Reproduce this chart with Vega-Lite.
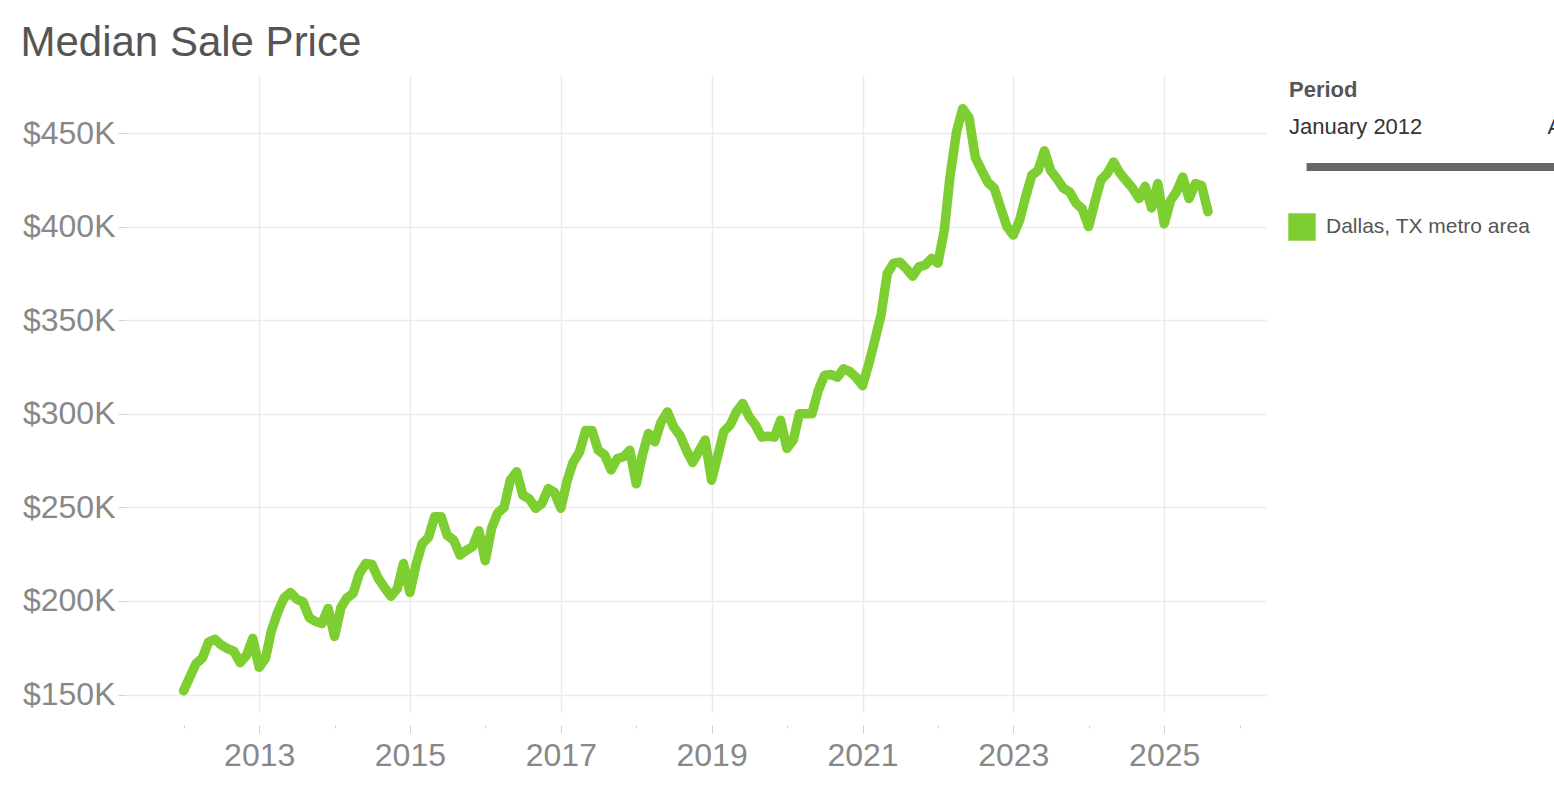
{
  "$schema": "https://vega.github.io/schema/vega-lite/v6.json",
  "width": 1140,
  "height": 637,
  "padding": {"left": 20, "top": 22, "right": 0, "bottom": 0},
  "background": "white",
  "title": {"text": "Median Sale Price", "anchor": "start", "frame": "bounds", "fontSize": 42, "fontWeight": "normal", "color": "#555555", "font": "Liberation Sans", "offset": 10, "dx": -2},
  "data": {"values": [
    {"date": "2012-01-01", "price": 152000}, {"date": "2012-02-01", "price": 159500}, {"date": "2012-03-01", "price": 166500}, {"date": "2012-04-01", "price": 169500},
    {"date": "2012-05-01", "price": 178000}, {"date": "2012-06-01", "price": 179500}, {"date": "2012-07-01", "price": 176500}, {"date": "2012-08-01", "price": 174500},
    {"date": "2012-09-01", "price": 173000}, {"date": "2012-10-01", "price": 167000}, {"date": "2012-11-01", "price": 171000}, {"date": "2012-12-01", "price": 180000},
    {"date": "2013-01-01", "price": 164500}, {"date": "2013-02-01", "price": 169500}, {"date": "2013-03-01", "price": 184000}, {"date": "2013-04-01", "price": 194000},
    {"date": "2013-05-01", "price": 201500}, {"date": "2013-06-01", "price": 204500}, {"date": "2013-07-01", "price": 201000}, {"date": "2013-08-01", "price": 199500},
    {"date": "2013-09-01", "price": 191000}, {"date": "2013-10-01", "price": 189000}, {"date": "2013-11-01", "price": 188000}, {"date": "2013-12-01", "price": 196000},
    {"date": "2014-01-01", "price": 181000}, {"date": "2014-02-01", "price": 196500}, {"date": "2014-03-01", "price": 201500}, {"date": "2014-04-01", "price": 204000},
    {"date": "2014-05-01", "price": 214500}, {"date": "2014-06-01", "price": 220000}, {"date": "2014-07-01", "price": 219500}, {"date": "2014-08-01", "price": 212000},
    {"date": "2014-09-01", "price": 207000}, {"date": "2014-10-01", "price": 202500}, {"date": "2014-11-01", "price": 206500}, {"date": "2014-12-01", "price": 220000},
    {"date": "2015-01-01", "price": 204500}, {"date": "2015-02-01", "price": 220000}, {"date": "2015-03-01", "price": 230500}, {"date": "2015-04-01", "price": 234000},
    {"date": "2015-05-01", "price": 245000}, {"date": "2015-06-01", "price": 245000}, {"date": "2015-07-01", "price": 235000}, {"date": "2015-08-01", "price": 232500},
    {"date": "2015-09-01", "price": 224500}, {"date": "2015-10-01", "price": 227000}, {"date": "2015-11-01", "price": 229000}, {"date": "2015-12-01", "price": 237500},
    {"date": "2016-01-01", "price": 221500}, {"date": "2016-02-01", "price": 239000}, {"date": "2016-03-01", "price": 247000}, {"date": "2016-04-01", "price": 250000},
    {"date": "2016-05-01", "price": 264500}, {"date": "2016-06-01", "price": 269000}, {"date": "2016-07-01", "price": 256500}, {"date": "2016-08-01", "price": 254500},
    {"date": "2016-09-01", "price": 249500}, {"date": "2016-10-01", "price": 252000}, {"date": "2016-11-01", "price": 260000}, {"date": "2016-12-01", "price": 258000},
    {"date": "2017-01-01", "price": 249500}, {"date": "2017-02-01", "price": 264500}, {"date": "2017-03-01", "price": 274000}, {"date": "2017-04-01", "price": 279500},
    {"date": "2017-05-01", "price": 291000}, {"date": "2017-06-01", "price": 291000}, {"date": "2017-07-01", "price": 280500}, {"date": "2017-08-01", "price": 278000},
    {"date": "2017-09-01", "price": 270000}, {"date": "2017-10-01", "price": 276000}, {"date": "2017-11-01", "price": 277000}, {"date": "2017-12-01", "price": 280500},
    {"date": "2018-01-01", "price": 262500}, {"date": "2018-02-01", "price": 278500}, {"date": "2018-03-01", "price": 289500}, {"date": "2018-04-01", "price": 285000},
    {"date": "2018-05-01", "price": 295500}, {"date": "2018-06-01", "price": 301000}, {"date": "2018-07-01", "price": 293000}, {"date": "2018-08-01", "price": 288500},
    {"date": "2018-09-01", "price": 280500}, {"date": "2018-10-01", "price": 274000}, {"date": "2018-11-01", "price": 280000}, {"date": "2018-12-01", "price": 286000},
    {"date": "2019-01-01", "price": 264500}, {"date": "2019-02-01", "price": 278000}, {"date": "2019-03-01", "price": 290500}, {"date": "2019-04-01", "price": 294000},
    {"date": "2019-05-01", "price": 301000}, {"date": "2019-06-01", "price": 305500}, {"date": "2019-07-01", "price": 298500}, {"date": "2019-08-01", "price": 294000},
    {"date": "2019-09-01", "price": 287500}, {"date": "2019-10-01", "price": 288000}, {"date": "2019-11-01", "price": 287500}, {"date": "2019-12-01", "price": 296500},
    {"date": "2020-01-01", "price": 281500}, {"date": "2020-02-01", "price": 286000}, {"date": "2020-03-01", "price": 300000}, {"date": "2020-04-01", "price": 300000},
    {"date": "2020-05-01", "price": 300000}, {"date": "2020-06-01", "price": 312500}, {"date": "2020-07-01", "price": 320500}, {"date": "2020-08-01", "price": 321000},
    {"date": "2020-09-01", "price": 319500}, {"date": "2020-10-01", "price": 324000}, {"date": "2020-11-01", "price": 322500}, {"date": "2020-12-01", "price": 319500},
    {"date": "2021-01-01", "price": 315000}, {"date": "2021-02-01", "price": 327000}, {"date": "2021-03-01", "price": 339000}, {"date": "2021-04-01", "price": 353000},
    {"date": "2021-05-01", "price": 375000}, {"date": "2021-06-01", "price": 380500}, {"date": "2021-07-01", "price": 381000}, {"date": "2021-08-01", "price": 377500},
    {"date": "2021-09-01", "price": 373500}, {"date": "2021-10-01", "price": 378500}, {"date": "2021-11-01", "price": 379500}, {"date": "2021-12-01", "price": 383000},
    {"date": "2022-01-01", "price": 380500}, {"date": "2022-02-01", "price": 398000}, {"date": "2022-03-01", "price": 427000}, {"date": "2022-04-01", "price": 450500},
    {"date": "2022-05-01", "price": 463000}, {"date": "2022-06-01", "price": 458000}, {"date": "2022-07-01", "price": 437000}, {"date": "2022-08-01", "price": 430000},
    {"date": "2022-09-01", "price": 423500}, {"date": "2022-10-01", "price": 420500}, {"date": "2022-11-01", "price": 410000}, {"date": "2022-12-01", "price": 400000},
    {"date": "2023-01-01", "price": 395500}, {"date": "2023-02-01", "price": 403500}, {"date": "2023-03-01", "price": 415500}, {"date": "2023-04-01", "price": 427500},
    {"date": "2023-05-01", "price": 430000}, {"date": "2023-06-01", "price": 440500}, {"date": "2023-07-01", "price": 430000}, {"date": "2023-08-01", "price": 425500},
    {"date": "2023-09-01", "price": 420500}, {"date": "2023-10-01", "price": 418500}, {"date": "2023-11-01", "price": 412500}, {"date": "2023-12-01", "price": 409500},
    {"date": "2024-01-01", "price": 400000}, {"date": "2024-02-01", "price": 413500}, {"date": "2024-03-01", "price": 425000}, {"date": "2024-04-01", "price": 428500},
    {"date": "2024-05-01", "price": 434500}, {"date": "2024-06-01", "price": 428500}, {"date": "2024-07-01", "price": 424500}, {"date": "2024-08-01", "price": 420500},
    {"date": "2024-09-01", "price": 415000}, {"date": "2024-10-01", "price": 421500}, {"date": "2024-11-01", "price": 410000}, {"date": "2024-12-01", "price": 423000},
    {"date": "2025-01-01", "price": 401500}, {"date": "2025-02-01", "price": 414000}, {"date": "2025-03-01", "price": 418500}, {"date": "2025-04-01", "price": 426500},
    {"date": "2025-05-01", "price": 415000}, {"date": "2025-06-01", "price": 423000}, {"date": "2025-07-01", "price": 422000}, {"date": "2025-08-01", "price": 408000}
  ]},
  "encoding": {
    "x": {
      "field": "date", "type": "temporal", "title": null,
      "scale": {"type": "utc", "domain": [{"year": 2011, "month": 3, "date": 28, "utc": true}, {"year": 2026, "month": 5, "date": 9, "utc": true}]},
      "axis": {
        "tickCount": {"interval": "year", "step": 1},
        "labelExpr": "utcyear(datum.value) % 2 == 1 ? utcFormat(datum.value, '%Y') : ''",
        "labelOverlap": false, "labelFlush": false, "labelPadding": 7, "offset": 13,
        "tickSize": {"condition": {"test": "utcyear(datum.value) % 2 == 0", "value": 3}, "value": 8},
        "gridOpacity": {"condition": {"test": "utcyear(datum.value) % 2 == 0", "value": 0}, "value": 1}
      }
    },
    "y": {
      "field": "price", "type": "quantitative", "title": null,
      "scale": {"domain": [140650, 481000], "nice": false, "zero": false},
      "axis": {"values": [150000, 200000, 250000, 300000, 350000, 400000, 450000], "labelExpr": "'$' + (datum.value / 1000) + 'K'", "tickSize": 8, "labelPadding": 3}
    }
  },
  "layer": [
    {
      "mark": {"type": "line", "strokeWidth": 9.5, "strokeCap": "round", "strokeJoin": "round"},
      "encoding": {
        "color": {
          "datum": "Dallas, TX metro area",
          "scale": {"range": ["#7dce30"]},
          "legend": {
            "orient": "none", "legendX": 1162, "legendY": 138, "title": null,
            "symbolType": "square", "symbolSize": 756, "labelFontSize": 21, "labelColor": "#555555", "labelOffset": 10, "labelLimit": 400,
            "encode": {"symbols": {"update": {"fill": {"value": "#7dce30"}, "strokeWidth": {"value": 0}, "opacity": {"value": 1}}}}
          }
        }
      }
    },
    {
      "mark": {"type": "point", "opacity": 0, "filled": true},
      "encoding": {
        "fill": {
          "field": "date", "type": "temporal",
          "scale": {"type": "utc", "range": ["#666666", "#666666"]},
          "legend": {
            "type": "gradient", "orient": "none", "legendX": 1163, "legendY": 5, "direction": "horizontal", "zindex": 0,
            "title": "Period", "titleFontSize": 22, "titleFontWeight": "bold", "titleColor": "#555555", "titlePadding": 61,
            "gradientLength": 382, "gradientThickness": 8, "gradientStrokeWidth": 0,
            "values": [{"year": 2012, "month": 1, "date": 1, "utc": true}, {"year": 2025, "month": 8, "date": 1, "utc": true}],
            "labelExpr": "utcFormat(datum.value, '%B %Y')",
            "labelFontSize": 22, "labelColor": "#333333", "labelOffset": -54, "labelOverlap": false
          }
        }
      }
    },
    {
      "mark": {"type": "point", "opacity": 0, "filled": false, "fill": "white", "stroke": "#666666", "strokeWidth": 1.5},
      "encoding": {
        "shape": {
          "datum": "Period start",
          "scale": {"range": ["M 0.45 -1 L 0 -1 A 1 1 0 0 0 0 1 L 0.45 1 Z"]},
          "legend": {
            "orient": "none", "legendX": 1160, "legendY": 78, "title": null, "zindex": 1,
            "labelColor": "transparent", "labelFontSize": 1,
            "symbolSize": 729, "symbolFillColor": "white", "symbolStrokeColor": "#666666", "symbolStrokeWidth": 1.5, "symbolOpacity": 1
          }
        }
      }
    }
  ],
  "config": {
    "view": {"stroke": null},
    "font": "Liberation Sans",
    "axis": {"domain": false, "gridColor": "#ebebeb", "gridWidth": 1.5, "tickColor": "#d0d0d0", "labelColor": "#888888", "labelFontSize": 32, "labelFont": "Liberation Sans"},
    "legend": {"labelFont": "Liberation Sans", "titleFont": "Liberation Sans"}
  }
}
